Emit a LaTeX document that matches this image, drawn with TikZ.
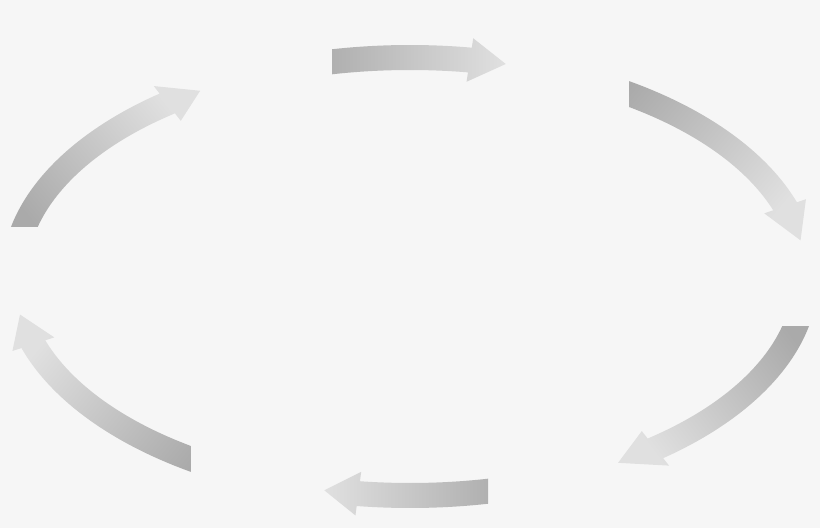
\documentclass[tikz,border=0pt]{standalone}
\definecolor{bggray}{RGB}{246,246,246}
\definecolor{tailgray}{RGB}{170,170,170}
\definecolor{headgray}{RGB}{224,224,224}
% arrow along the ring: tail angle, head base angle, tip angle
\newcommand{\ringarrow}[3]{(#1:408.5 and 231.5)
  arc[start angle=#1, end angle=#2, x radius=408.5, y radius=231.5]
  -- (#2:418 and 241) -- (#3:396 and 219) -- (#2:374 and 197)
  -- (#2:383.5 and 206.5)
  arc[start angle=#2, end angle=#1, x radius=383.5, y radius=206.5] -- cycle}
\begin{document}
\begin{tikzpicture}[
        x=0.75pt, y=0.75pt,
        arrowfill/.style={left color=tailgray, right color=headgray}
      ]
      \fill[bggray] (-410,-251.5) rectangle (410,276.5);
      \useasboundingbox (-410,-251.5) rectangle (410,276.5);
      \foreach \ta/\tb/\tc/\sa/\xa/\ya/\xb/\yb in {
          104/81.3/76/90/-78/0/450/300,
          62/18.7/9.5/50.4/219/-300/450/300,
          -8/-51.7/-58.3/-53.3/-450/-49.5/450/-300,
          -76/-97.5/-102.5/270/78/0/-450/-300,
          -118/-162/-170/231/-219/-300/-450/300,
          172/127.8/122/128.9/-450/49.5/450/300} {
        \begin{scope}
          \clip (\xa,\ya) rectangle (\xb,\yb);
          \shade[arrowfill, shading angle=\sa] \ringarrow{\ta}{\tb}{\tc};
        \end{scope}
      }
    \end{tikzpicture}
\end{document}
